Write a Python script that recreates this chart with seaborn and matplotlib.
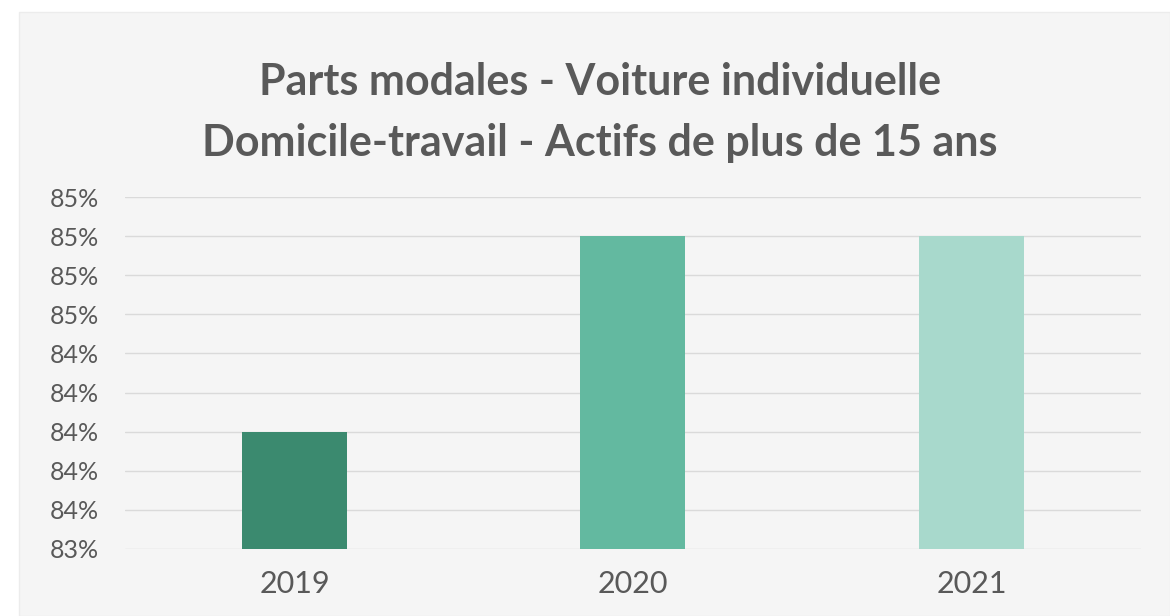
import matplotlib
matplotlib.use("Agg")
import matplotlib.pyplot as plt
from matplotlib.patches import Rectangle
from matplotlib.ticker import PercentFormatter, MultipleLocator
import pandas as pd
import seaborn as sns

# data
years = ["2019", "2020", "2021"]
car_share = [84.0, 85.0, 85.0]   # percent
bar_colors = ["#3b8a6f", "#63b9a0", "#a8d9cc"]

df = pd.DataFrame({"year": years, "share": car_share})

sns.set_theme(style="white")
plt.rcParams["font.family"] = ["Lato", "DejaVu Sans"]

bg = "#f5f5f5"
fig = plt.figure(figsize=(11.7, 6.16), dpi=100, facecolor="white")
# light chart area with a thin white frame on the left and top
fig.patches.append(Rectangle((0.016, 0.0), 0.984, 0.980, transform=fig.transFigure,
                             facecolor=bg, edgecolor="#ececec", linewidth=1, zorder=-10))

ax = fig.add_axes([0.107, 0.109, 0.868, 0.571])
ax.set_zorder(1)
ax.set_facecolor("none")

sns.barplot(data=df, x="year", y="share", hue="year", palette=bar_colors,
            saturation=1, width=0.31, legend=False, linewidth=0, ax=ax, zorder=3)

# y axis: 83.4% -> 85.2% in 0.2 steps, labels rounded to whole percent
ax.set_ylim(83.4, 85.2)
ax.yaxis.set_major_locator(MultipleLocator(0.2))
ax.yaxis.set_major_formatter(PercentFormatter(100, decimals=0))
ax.grid(axis="y", color="#dadada", linewidth=1, zorder=0)
ax.set_axisbelow(True)

for s in ax.spines.values():
    s.set_visible(False)

ax.tick_params(axis="y", labelsize=18, labelcolor="#595959", length=0, pad=19)
ax.tick_params(axis="x", labelsize=22, labelcolor="#595959", length=0, pad=15)
ax.set_xlabel("")
ax.set_ylabel("")

title_1 = fig.text(0.513, 0.867, "Parts modales - Voiture individuelle", ha="center", va="center",
                   fontsize=31, fontweight="bold", color="#595959")
title_2 = fig.text(0.513, 0.768, "Domicile-travail - Actifs de plus de 15 ans", ha="center", va="center",
                   fontsize=31, fontweight="bold", color="#595959")
title_1.set_zorder(2)
title_2.set_zorder(2)

fig.savefig("out.png", dpi=100, facecolor="white")
